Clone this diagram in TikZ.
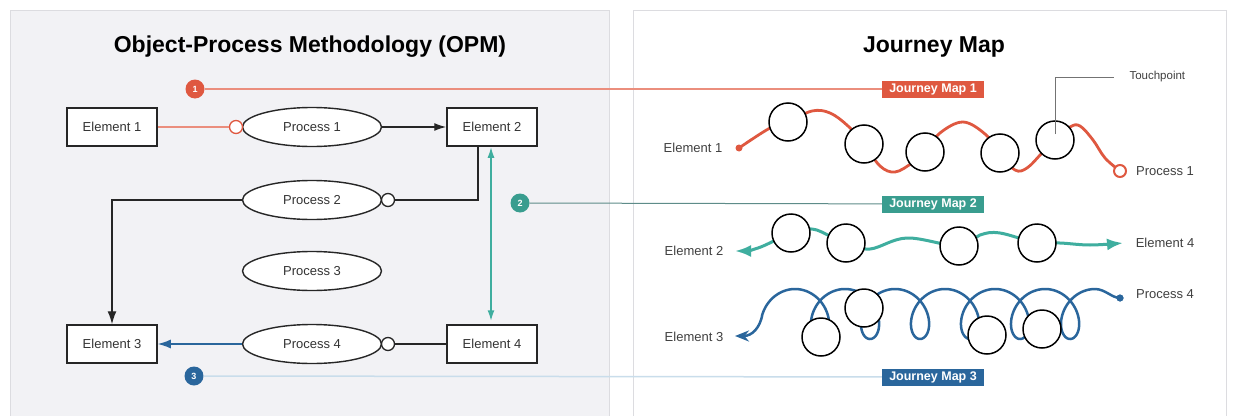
\documentclass[tikz,border=0pt]{standalone}
\usepackage{fontspec}
\setmainfont{Liberation Sans}
\usetikzlibrary{shapes.geometric,arrows.meta}
\definecolor{jmred}{HTML}{DF5840}
\definecolor{jmredlight}{HTML}{EB8E7D}
\definecolor{jmteal}{HTML}{3FAE9F}
\definecolor{jmtealdark}{HTML}{5E8C89}
\definecolor{jmblue}{HTML}{2A669C}
\definecolor{jmbluelight}{HTML}{C9DDEB}
\definecolor{panelgray}{HTML}{F2F2F5}
\definecolor{panelline}{HTML}{DCDCE0}

\begin{document}
\begin{tikzpicture}[x=1pt,y=-1pt,
        element/.style={draw=black!85, line width=1.5pt, fill=white, minimum width=90pt, minimum height=38pt, inner sep=0pt, text=black!80, font=\fontsize{13}{15}\selectfont},
        process/.style={ellipse, draw=black!85, line width=1.4pt, fill=white, minimum width=139pt, minimum height=39pt, inner sep=0pt, text=black!80, font=\fontsize{13}{15}\selectfont},
        knob/.style={circle, draw=black!85, line width=1.3pt, fill=white, minimum size=13pt, inner sep=0pt},
        badge/.style={circle, minimum size=19pt, inner sep=0pt, text=white, font=\fontsize{9}{10}\selectfont\bfseries},
        jmlabel/.style={minimum width=102pt, minimum height=17pt, inner sep=0pt, text=white, font=\fontsize{12.5}{14}\selectfont\bfseries},
        touchpt/.style={circle, draw=black, line width=1.5pt, fill=white, minimum size=38pt, inner sep=0pt},
        lbl/.style={text=black!75, font=\fontsize{13}{15}\selectfont},
        heading/.style={font=\fontsize{23}{27}\selectfont\bfseries},
        link/.style={line width=1.4pt, draw=black!85}
    ]
                \useasboundingbox (0,0) rectangle (1233,415);
                \fill[white] (0,0) rectangle (1233,415);
                \fill[panelgray] (10,10) rectangle (609,416);
                \draw[panelline, line width=1pt] (10,416) -- (10,10) -- (609,10) -- (609,416);
                \draw[panelline, line width=1pt] (633,416) -- (633,10) -- (1226,10) -- (1226,416);

                \node[heading] (opmtitle) at (310,47) {Object-Process Methodology (OPM)};
                \node[heading] (jmtitle) at (934,47) {Journey Map};

                \node[element] (e1) at (112,127) {Element 1};
                \node[element] (e2) at (492,127) {Element 2};
                \node[element] (e3) at (112,344) {Element 3};
                \node[element] (e4) at (492,344) {Element 4};
                \node[process] (p1) at (312,127) {Process 1};
                \node[process] (p2) at (312,200) {Process 2};
                \node[process] (p3) at (312,271) {Process 3};
                \node[process] (p4) at (312,344) {Process 4};
                \node[knob, draw=jmred] (k1) at (236,127) {};
                \node[knob] (k2) at (388,200) {};
                \node[knob] (k4) at (388,344) {};

                \draw[jmredlight, line width=1.3pt] (e1) -- (k1);
                \draw[link, -{Latex[length=12pt,width=8pt]}] (p1) -- (e2);
                \draw[link] ([xshift=-14pt]e2.south) |- (k2);
                \draw[link, -{Latex[length=13pt,width=9pt]}] (p2) -| (e3);
                \draw[link, draw=jmblue, -{Latex[length=13pt,width=9pt]}] (p4) -- (e3);
                \draw[link] (e4) -- (k4);
                \draw[jmteal, line width=1.8pt, {Latex[length=11pt,width=7pt]}-{Latex[length=11pt,width=7pt]}] ([xshift=-1pt]e2.south) -- ([xshift=-1pt,yshift=3pt]e4.north);

                \node[badge, fill=jmred] (b1) at (195,89) {1};
                \node[badge, fill=jmteal!90!black] (b2) at (520,203) {2};
                \node[badge, fill=jmblue] (b3) at (194,376) {3};
                \node[jmlabel, fill=jmred] (jm1) at (933,89) {Journey Map 1};
                \node[jmlabel, fill=jmteal!90!black] (jm2) at (933,204) {Journey Map 2};
                \node[jmlabel, fill=jmblue] (jm3) at (933,377) {Journey Map 3};
                \draw[jmredlight, line width=1.2pt] (b1) -- (jm1);
                \draw[jmtealdark, line width=1pt] (b2) -- (jm2);
                \draw[jmbluelight, line width=1.5pt] (b3) -- (jm3);

                \coordinate (t11) at (788,122);
                \coordinate (t12) at (864,144);
                \coordinate (t13) at (925,152);
                \coordinate (t14) at (1000,153);
                \coordinate (t15) at (1055,140);
                \node[circle, fill=jmred, minimum size=7pt, inner sep=0pt] (e1dot) at (739,148) {};
                \coordinate (p1end) at (1120,171);
                \draw[jmred, line width=2.8pt] plot[smooth, tension=0.6] coordinates {(e1dot) (770,128) (t11) (812,111) (830,113) (848,126) (t12) (880,166) (895,172) (912,163) (t13) (940,133) (963,122) (985,134) (t14) (1015,170) (1027,168) (1042,153) (t15) (1070,127) (1080,126) (1093,140) (1105,158) (p1end)};
                \node[circle, draw=jmred, line width=2pt, fill=white, minimum size=12pt, inner sep=0pt] (p1ring) at (p1end) {};
                \foreach \n in {t11,t12,t13,t14,t15}
                    \node[touchpt] at (\n) {};
                \node[lbl, anchor=west, font=\fontsize{11.5}{13}\selectfont] (touch) at (1126,77) {Touchpoint};
                \draw[black!55, line width=0.8pt] ([yshift=6pt]t15) |- ([xshift=-12pt]touch.west);
                \node[lbl] (re1) at (693,148) {Element 1};
                \node[lbl] (rp1) at (1165,171) {Process 1};

                \coordinate (t21) at (791,233);
                \coordinate (t22) at (846,243);
                \coordinate (t23) at (959,246);
                \coordinate (t24) at (1037,243);
                \coordinate (e2tip) at (735,251);
                \coordinate (e4tip) at (1123,243);
                \draw[jmteal, line width=3pt, {Latex[length=16pt,width=12pt]}-{Latex[length=16pt,width=12pt]}] plot[smooth, tension=0.6] coordinates {(e2tip) (758,248) (t21) (812,229) (830,236) (t22) (870,249) (907,238) (t23) (980,235) (1000,233) (t24) (1060,243) (1090,245) (e4tip)};
                \foreach \n in {t21,t22,t23,t24}
                    \node[touchpt] at (\n) {};
                \node[lbl] (re2) at (694,251) {Element 2};
                \node[lbl] (re4) at (1165,243) {Element 4};

                \coordinate (t31) at (821,337);
                \coordinate (t32) at (864,308);
                \coordinate (t33) at (987,335);
                \coordinate (t34) at (1042,329);
                \coordinate (e3tip) at (735,336);
                \node[circle, fill=jmblue, minimum size=7pt, inner sep=0pt] (p4dot) at (1120,298) {};
                \draw[jmblue, line width=2.5pt, {Stealth[length=14pt,width=11pt]}-] (e3tip) .. controls (752,336) and (760,328) .. (762.5,314) -- plot[domain=-0.5*pi:12*pi, samples=500, variable=\t] ({795+7.96*\t+20*sin(\t r)},{314-25*cos(\t r)}) .. controls (1105,289) and (1112,298) .. (p4dot.center);
                \node[circle, fill=jmblue, minimum size=7pt, inner sep=0pt] at (p4dot) {};
                \foreach \n in {t31,t32,t33,t34}
                    \node[touchpt] at (\n) {};
                \node[lbl] (re3) at (694,337) {Element 3};
                \node[lbl] (rp4) at (1165,294) {Process 4};
            \end{tikzpicture}
\end{document}
